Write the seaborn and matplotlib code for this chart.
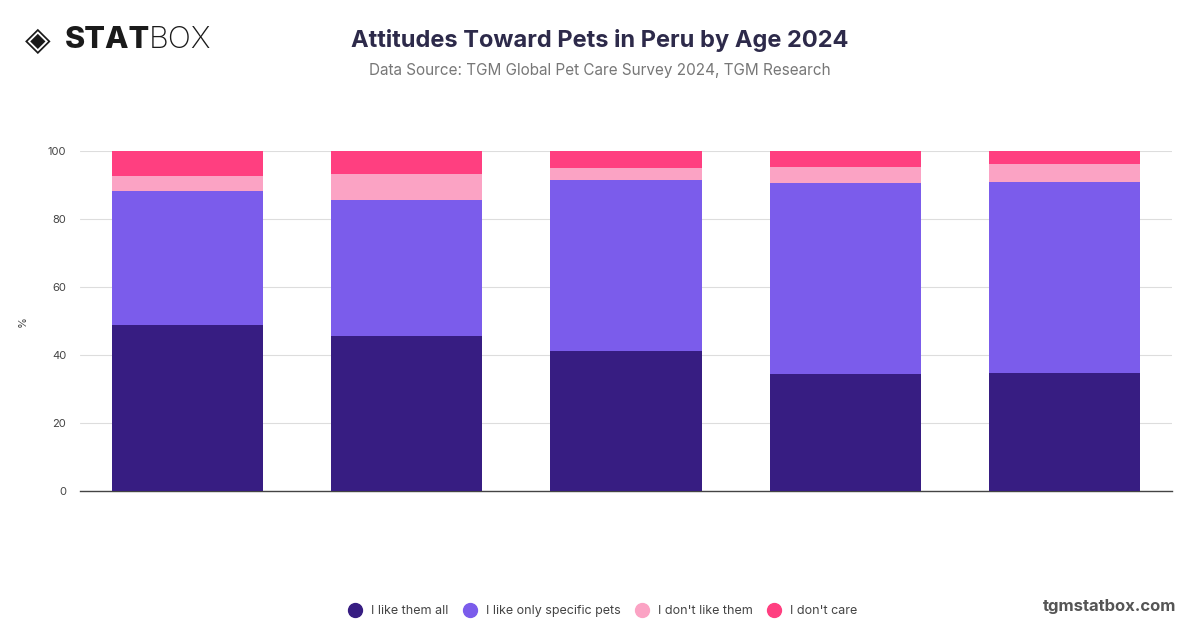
import numpy as np
import pandas as pd
import seaborn as sns
import matplotlib.pyplot as plt
from matplotlib.lines import Line2D

# age groups (no labels shown on the chart)
ages = ['18-24', '25-34', '35-44', '45-54', '55+']
like_all = [48.9, 45.6, 41.1, 34.3, 34.7]
like_specific = [39.4, 40.0, 50.4, 56.2, 56.3]
dont_like = [4.3, 7.6, 3.4, 4.8, 5.2]
dont_care = [7.4, 6.8, 5.1, 4.7, 3.8]

series_names = ['I like them all', 'I like only specific pets', "I don't like them", "I don't care"]
series_vals = [like_all, like_specific, dont_like, dont_care]
colors = ['#371d82', '#7b5ceb', '#fba3c4', '#ff3f80']

sns.set_theme(style='white')
plt.rcParams['font.family'] = ['Inter', 'DejaVu Sans']

fig = plt.figure(figsize=(12, 6.28), dpi=100)
ax = fig.add_axes([0.0667, 0.218, 0.91, 0.5414])

#cumulative totals, tallest drawn first so lower layers cover them
cum = np.cumsum(np.array(series_vals), axis=0)
for i in range(len(series_names) - 1, -1, -1):
    df = pd.DataFrame({'age': ages, 'value': cum[i]})
    sns.barplot(data=df, x='age', y='value', color=colors[i], width=0.69,
                saturation=1, ax=ax, zorder=3, edgecolor='none', linewidth=0)

ax.set_ylim(0, 100)
ax.set_xlim(-0.49, 4.49)
ax.set_yticks([0, 20, 40, 60, 80, 100])
ax.yaxis.grid(True, color='#dddddd', linewidth=0.8, zorder=0)
ax.set_xticklabels([])
ax.tick_params(axis='x', length=0)
ax.tick_params(axis='y', length=0, labelsize=8, labelcolor='#444444', pad=10)
ax.set_xlabel('')
ax.set_ylabel('%', fontsize=8, color='#444444', labelpad=14)
for s in ['top', 'right', 'left']:
    ax.spines[s].set_visible(False)
ax.spines['bottom'].set_color('#444444')
ax.spines['bottom'].set_linewidth(1.0)

#title and source
fig.text(0.5, 0.936, 'Attitudes Toward Pets in Peru by Age 2024', ha='center', va='center',
         fontsize=17, fontweight='bold', color='#2d2a4a')
fig.text(0.5, 0.887, 'Data Source: TGM Global Pet Care Survey 2024, TGM Research', ha='center', va='center',
         fontsize=11, color='#777777')

#logo
fig.text(0.021, 0.936, '◈', ha='left', va='center', fontsize=24, color='#1a1a1a', family='DejaVu Sans')
fig.text(0.054, 0.936, 'STAT', ha='left', va='center', fontsize=22, fontweight='heavy', color='#1a1a1a')
fig.text(0.124, 0.936, 'BOX', ha='left', va='center', fontsize=22, fontweight='light', color='#1a1a1a')

#footer
fig.text(0.98, 0.035, 'tgmstatbox.com', ha='right', va='center', fontsize=12,
         fontweight='bold', color='#555555')

#legend
handles = [Line2D([0], [0], marker='o', linestyle='', markersize=10, markerfacecolor=c,
                  markeredgecolor=c) for c in colors]
fig.legend(handles, series_names, loc='center', bbox_to_anchor=(0.5, 0.027), ncol=4,
           frameon=False, fontsize=9, labelcolor='#444444', handletextpad=0.3,
           columnspacing=0.7)

fig.savefig('out.png', dpi=100)
